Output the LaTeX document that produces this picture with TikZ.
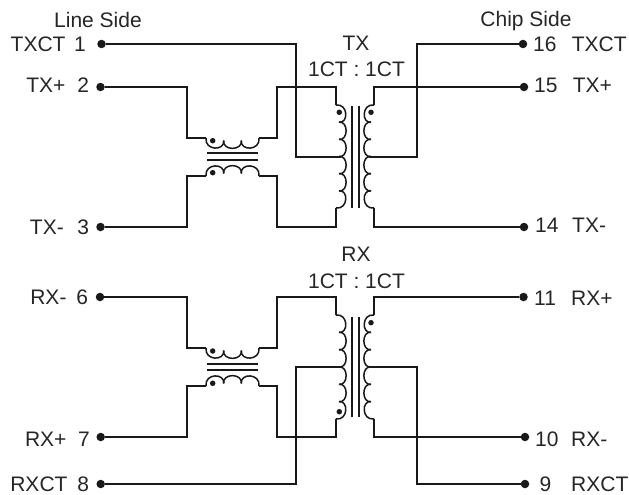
\documentclass[tikz,border=0pt]{standalone}
\usepackage{fontspec}
\setmainfont{Liberation Sans}
\tikzset{
  wire/.style={line width=1.7pt,line join=miter,black!90},
  coil/.style={line width=1.5pt,black!90},
  core/.style={line width=1.7pt,black!90},
  term/.style={circle,fill=black!90,inner sep=0pt,minimum size=8.5pt},
  pol/.style={circle,fill=black!90,inner sep=0pt,minimum size=5.5pt},
  lab/.style={font=\fontsize{21}{24}\selectfont,inner sep=0pt,text=black!85},
}
% vertical winding: x, y start, bulge direction, bump height, number of bumps
\newcommand{\vwind}[5]{%
  \foreach \i in {1,...,#5}{%
    \pgfmathsetmacro{\ya}{#2+(\i-1)*#4}%
    \pgfmathsetmacro{\yb}{#2+\i*#4}%
    \pgfmathsetmacro{\xa}{#1+#3*(\i==1?0:3)}%
    \pgfmathsetmacro{\xb}{#1+#3*(\i==#5?0:3)}%
    \pgfmathsetmacro{\xc}{#1+#3*12.5}%
    \draw[coil] (\xa,\ya) .. controls (\xc,\ya-1.5) and (\xc,\yb+1.5) .. (\xb,\yb);
  }}
% horizontal winding: y, x start, bulge direction, bump width, number of bumps
\newcommand{\hwind}[5]{%
  \foreach \i in {1,...,#5}{%
    \pgfmathsetmacro{\xa}{#2+(\i-1)*#4}%
    \pgfmathsetmacro{\xb}{#2+\i*#4}%
    \pgfmathsetmacro{\ya}{#1+#3*(\i==1?0:2.5)}%
    \pgfmathsetmacro{\yb}{#1+#3*(\i==#5?0:2.5)}%
    \pgfmathsetmacro{\yc}{#1+#3*13}%
    \draw[coil] (\xa,\ya) .. controls (\xa-1.5,\yc) and (\xb+1.5,\yc) .. (\xb,\yb);
  }}
\begin{document}
\begin{tikzpicture}[x=1pt,y=-1pt]
\useasboundingbox (0,0) rectangle (629,495);
% terminals
\foreach \n/\x/\y in {a1/101.5/44,a2/100.5/87,a3/100.5/227,a6/100/297,a7/100.7/437,a8/100.7/484,
                      b16/523/44,b15/524/87,b14/524/227,b11/523.5/297,b10/525/437,b9/525/484}
  \node[term] (\n) at (\x,\y) {};
% TX wires
\coordinate (tl) at (336,105);  \coordinate (tlb) at (336,208);
\coordinate (tr) at (374,105);  \coordinate (trb) at (374,208);
\draw[wire] (a1) -- (296,44) -- (296,157) -- (341,157);
\draw[wire] (a2) -- (187,87) -- (187,138) -- (206,138);
\draw[wire] (259,138) -- (277,138) -- (277,87) -- (336,87) -- (tl);
\draw[wire] (a3) -- (187,227) -- (187,176) -- (206,176);
\draw[wire] (259,176) -- (277,176) -- (277,227) -- (336,227) -- (tlb);
\draw[wire] (b16) -- (417,44) -- (417,157) -- (369,157);
\draw[wire] (b15) -- (374,87) -- (tr);
\draw[wire] (b14) -- (374,227) -- (trb);
% RX wires
\coordinate (rl) at (336,315);  \coordinate (rlb) at (336,419);
\coordinate (rr) at (374,315);  \coordinate (rrb) at (374,419);
\draw[wire] (a8) -- (296,484) -- (296,367) -- (341,367);
\draw[wire] (a6) -- (187,297) -- (187,348) -- (206,348);
\draw[wire] (259,348) -- (277,348) -- (277,297) -- (336,297) -- (rl);
\draw[wire] (a7) -- (187,437) -- (187,386) -- (206,386);
\draw[wire] (259,386) -- (277,386) -- (277,437) -- (336,437) -- (rlb);
\draw[wire] (b9) -- (417,484) -- (417,367) -- (369,367);
\draw[wire] (b11) -- (374,297) -- (rr);
\draw[wire] (b10) -- (374,437) -- (rrb);
% main windings
\vwind{336}{105}{1}{17.17}{6}
\vwind{374}{105}{-1}{17.17}{6}
\vwind{336}{315}{1}{17.33}{6}
\vwind{374}{315}{-1}{17.33}{6}
% cores
\foreach \x in {352,359}{
  \draw[core] (\x,106) -- (\x,208);
  \draw[core] (\x,317) -- (\x,417);
}
% common mode chokes
\hwind{138}{206}{1}{17.67}{3}
\hwind{176}{206}{-1}{17.67}{3}
\hwind{348}{206}{1}{17.67}{3}
\hwind{386}{206}{-1}{17.67}{3}
\foreach \y in {153,160,364,370}
  \draw[core] (207,\y) -- (258,\y);
% polarity dots
\foreach \n/\x/\y in {p1/212.7/140.7,p2/212.7/172.7,p3/339.3/112.3,p4/371/112.3,
                      p5/212.7/351,p6/212.7/383.3,p7/339.3/411.7,p8/371/322.7}
  \node[pol] (\n) at (\x,\y) {};
% labels
\node[lab,anchor=base west] (ls) at (54,28) {Line Side};
\node[lab,anchor=base east] (cs) at (571.7,27) {Chip Side};
\node[lab,anchor=base] (tx) at (356,51) {TX};
\node[lab,anchor=base] (txr) at (356.5,76.7) {1CT : 1CT};
\node[lab,anchor=base] (rx) at (356,261.7) {RX};
\node[lab,anchor=base] (rxr) at (356.5,288.3) {1CT : 1CT};
\foreach \n/\t/\xt/\num/\xn/\y in {l1/TXCT/65.7/1/86/51.7,l2/TX+/65.7/2/89.3/92.5,l3/TX-/64/3/89.3/234.3,
                                   l6/RX-/66.7/6/88.3/304.3,l7/RX+/66.7/7/90/446,l8/RXCT/67.7/8/89.3/491.8}{
  \node[lab,anchor=base east] (\n) at (\xt,\y) {\t};
  \node[lab,anchor=base east] (\n n) at (\xn,\y) {\num};
}
\foreach \n/\t/\xt/\num/\xn/\y in {r16/TXCT/571.7/16/533/51.7,r15/TX+/572.7/15/534/92.7,r14/TX-/572/14/535/232.3,
                                   r11/RX+/571/11/534/305,r10/RX-/571/10/535/446,r9/RXCT/571/9/539.3/491.8}{
  \node[lab,anchor=base west] (\n) at (\xt,\y) {\t};
  \node[lab,anchor=base west] (\n n) at (\xn,\y) {\num};
}
\end{tikzpicture}
\end{document}
